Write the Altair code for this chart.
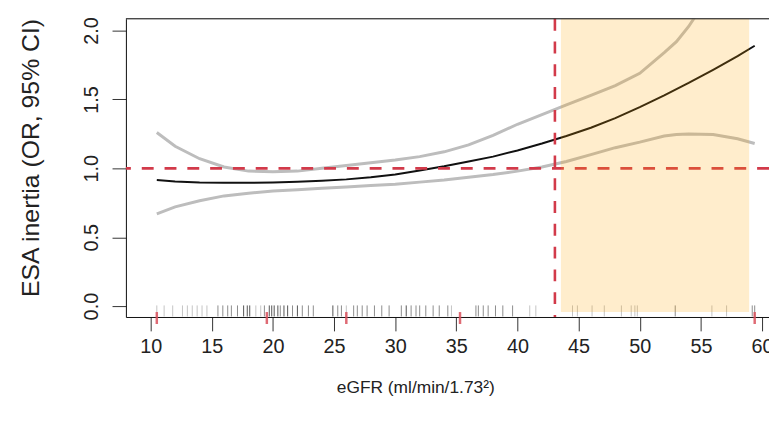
import altair as alt
import pandas as pd

# ---------------- data ----------------
X_DOMAIN = [7.974, 60.57]
Y_DOMAIN = [-0.079, 2.086]
X_TICKS = [10, 15, 20, 25, 30, 35, 40, 45, 50, 55, 60]
Y_TICKS = [0.0, 0.5, 1.0, 1.5, 2.0]

EGFR = [10.5, 12, 14, 16, 18, 20, 22, 24, 26, 28, 30, 32, 34, 36, 38, 40,
        42, 44, 46, 48, 50, 52, 53, 54, 56, 58, 59.4]
OR = [0.915, 0.905, 0.898, 0.895, 0.895, 0.898, 0.903, 0.91, 0.92, 0.935,
      0.955, 0.985, 1.015, 1.05, 1.085, 1.13, 1.18, 1.235, 1.295, 1.365,
      1.445, 1.53, 1.575, 1.62, 1.715, 1.815, 1.89]
UPPER = [1.26, 1.16, 1.07, 1.01, 0.98, 0.975, 0.98, 1.0, 1.02, 1.04, 1.06,
         1.085, 1.12, 1.17, 1.24, 1.32, 1.39, 1.46, 1.53, 1.60, 1.69, 1.84,
         1.92, 2.03, 2.3, 2.6, 2.85]
LOWER = [0.67, 0.72, 0.765, 0.80, 0.82, 0.835, 0.845, 0.855, 0.865, 0.875,
         0.885, 0.90, 0.915, 0.935, 0.955, 0.98, 1.01, 1.05, 1.10, 1.15,
         1.19, 1.235, 1.245, 1.25, 1.245, 1.215, 1.18]

RUG_X = [10.5, 11.1, 11.8, 12.6, 13.0, 13.4, 13.8, 14.2, 14.6,
         15.5, 15.9, 16.3, 16.6, 17.1, 17.6, 17.9, 18.1, 18.6, 19.0, 19.3,
         19.7, 19.9, 20.1, 20.4, 20.6, 20.9, 21.2, 21.6, 22.0, 22.4, 22.9,
         23.3, 24.9, 25.3, 25.6, 26.0, 26.6, 26.9, 27.3, 27.7, 28.3, 28.9,
         29.5, 30.5, 30.9, 31.3, 31.7, 32.0, 32.5, 33.1, 33.6, 34.3, 34.6,
         36.6, 36.8, 37.2, 37.6, 38.2, 38.8, 39.6, 41.0, 41.5,
         44.5, 44.9, 46.1, 47.1, 48.5, 49.3, 49.6, 49.8, 52.9, 55.9, 57.1,
         59.2, 59.4]
RUG_W = [1, 1, 1, 1, 1, 1, 1, 1, 1,
         2, 2, 2, 2, 2, 3, 3, 3, 1, 1, 2,
         3, 3, 3, 3, 2, 3, 3, 2, 3, 2, 2,
         2, 3, 2, 2, 1, 2, 2, 2, 2, 2, 2,
         2, 2, 3, 2, 2, 2, 2, 2, 2, 2, 1,
         2, 2, 2, 2, 2, 2, 2, 1, 1,
         1, 1, 1, 1, 1, 1, 1, 1, 2, 1, 1,
         2, 2]
KNOTS = [10.5, 19.5, 26.0, 35.3, 59.4]
CUTOFF = 43.06
SHADE_X = [43.55, 58.95]
SHADE_Y = [-0.043, 2.086]
REF_OR = 1.0
RUG_Y = [0.005, -0.075]
KNOT_Y = [-0.043, -0.13]

# ---------------- encodings ----------------
FONT = "Liberation Sans"
xs = alt.Scale(domain=X_DOMAIN, nice=False, zero=False)
ys = alt.Scale(domain=Y_DOMAIN, nice=False, zero=False)

x_axis = alt.Axis(values=X_TICKS, format="d", tickSize=14, tickColor="#333",
                  domainColor="#111", labelFontSize=20, labelColor="#222",
                  labelPadding=6, labelFont=FONT, grid=False,
                  titleFont=FONT, titleFontSize=17.5, titleFontWeight="normal",
                  titleColor="#222", titleX=292, titleY=71,
                  titleAlign="center", titleBaseline="middle",
                  labelFlush=False, labelOverlap=False)
y_axis = alt.Axis(values=Y_TICKS, format=".1f", tickSize=14, tickColor="#333",
                  domainColor="#111", labelFontSize=20, labelColor="#222",
                  labelPadding=11, labelFont=FONT, labelAngle=270,
                  labelAlign="center", labelBaseline="bottom", grid=False,
                  titleFont=FONT, titleFontSize=25, titleFontWeight="normal",
                  titleColor="#222", titleAngle=270, titleX=-96, titleY=140,
                  titleAlign="center", titleBaseline="middle",
                  labelFlush=False, labelOverlap=False)
X_TITLE = "eGFR (ml/min/1.73²)"
Y_TITLE = "ESA inertia (OR, 95% CI)"


def X(field="egfr"):
    return alt.X(f"{field}:Q", scale=xs, axis=x_axis, title=X_TITLE)


def Y(field="val"):
    return alt.Y(f"{field}:Q", scale=ys, axis=y_axis, title=Y_TITLE)


curves = pd.DataFrame({"egfr": EGFR, "OR": OR, "upper": UPPER, "lower": LOWER})
ci = curves.melt(id_vars="egfr", value_vars=["upper", "lower"],
                 var_name="bound", value_name="val")
orl = curves.rename(columns={"OR": "val"})[["egfr", "val"]]

rug = pd.DataFrame({"egfr": RUG_X, "w": RUG_W,
                    "val": [RUG_Y[0]] * len(RUG_X),
                    "val2": [RUG_Y[1]] * len(RUG_X)})
knots = pd.DataFrame({"egfr": KNOTS, "val": [KNOT_Y[0]] * len(KNOTS),
                      "val2": [KNOT_Y[1]] * len(KNOTS)})
shade = pd.DataFrame({"egfr": [SHADE_X[0]], "egfr2": [SHADE_X[1]],
                      "val": [SHADE_Y[1]], "val2": [SHADE_Y[0]]})
vline = pd.DataFrame({"egfr": [CUTOFF]})
hline = pd.DataFrame({"val": [REF_OR]})
topb = pd.DataFrame({"val": [Y_DOMAIN[1]]})

rug_layer = alt.Chart(rug).mark_rule(color="#555", strokeWidth=1).encode(
    x=X(), y=Y(), y2="val2:Q",
    opacity=alt.Opacity("w:Q", scale=alt.Scale(domain=[1, 3], range=[0.35, 1.0]),
                        legend=None))
ci_layer = alt.Chart(ci).mark_line(color="#bdbdbd", strokeWidth=3, clip=True).encode(
    x=X(), y=Y(), detail="bound:N")
or_layer = alt.Chart(orl).mark_line(color="#111", strokeWidth=2, clip=True).encode(
    x=X(), y=Y())
h_layer = alt.Chart(hline).mark_rule(color="#d23a4a", strokeWidth=2.6,
                                     strokeDash=[12, 11]).encode(y=Y())
v_layer = alt.Chart(vline).mark_rule(color="#d23a4a", strokeWidth=2.6,
                                     strokeDash=[12, 11]).encode(x=X())
knot_layer = alt.Chart(knots).mark_rule(color="#d9505c", strokeWidth=2.5,
                                        opacity=0.85).encode(
    x=X(), y=Y(), y2="val2:Q")
shade_layer = alt.Chart(shade).mark_rect(color="orange", opacity=0.2).encode(
    x=X(), x2="egfr2:Q", y=Y(), y2="val2:Q")
top_layer = alt.Chart(topb).mark_rule(color="#111", strokeWidth=1).encode(y=Y())

chart = alt.layer(rug_layer, ci_layer, or_layer, h_layer, v_layer, knot_layer,
                  shade_layer, top_layer).properties(
    width=649, height=301,
    padding={"left": 119, "top": 9, "right": 0, "bottom": 90},
    autosize=alt.AutoSizeParams(type="none"),
).configure_view(stroke=None).configure(background="white")

chart.save("out.html", embed_options={"renderer": "svg", "actions": False})
